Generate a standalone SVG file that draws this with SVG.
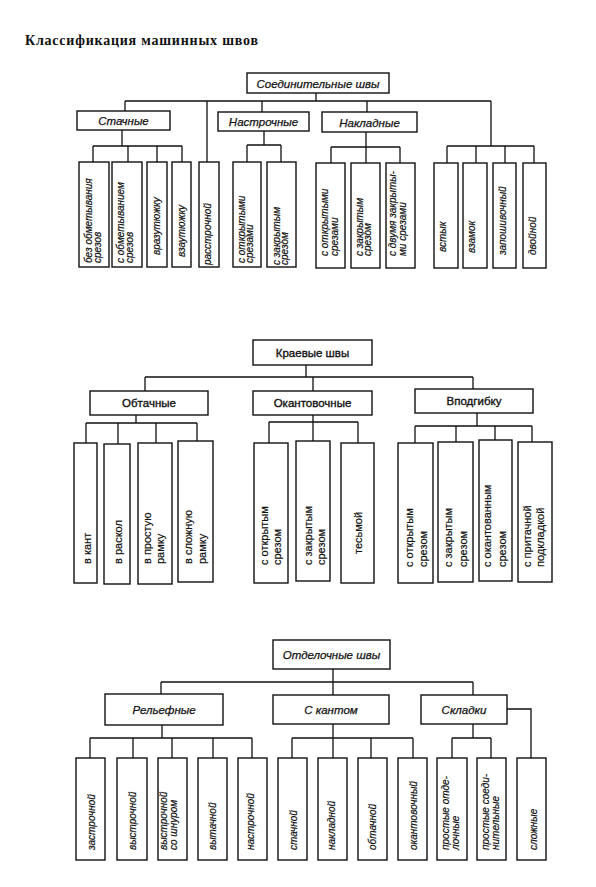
<svg xmlns="http://www.w3.org/2000/svg" width="596" height="887" viewBox="0 0 596 887">
<style>
rect{fill:#fff;stroke:#111;stroke-width:1.4}
.c path{fill:none;stroke:#111;stroke-width:1.3}
text{font-family:"Liberation Sans",Arial,sans-serif;fill:#111}
.h{font-size:11.5px;font-style:italic;text-anchor:middle;stroke:#111;stroke-width:0.25}
.h2{font-size:11.5px;text-anchor:middle;stroke:#111;stroke-width:0.35}
.l{font-size:10px;font-style:italic;stroke:#111;stroke-width:0.2}
.l2{font-size:11px;stroke:#111;stroke-width:0.2}
.t{font-family:"Liberation Serif","Times New Roman",serif;font-weight:bold;font-size:14px}
</style>
<rect x="0" y="0" width="596" height="887" style="stroke:none"/>
<text class="t" x="25" y="45" textLength="233" lengthAdjust="spacing">Классификация  машинных  швов</text>

<!-- connectors -->
<g class="c" id="connectors">
<!-- section 1 -->
<path d="M316 93V101M125 101H491M125 101V111M207 101V162M262 101V112M367 101V112M491 101V146"/>
<path d="M122 130V146M93 146H182M93 146V162M128 146V162M157 146V162M182 146V162"/>
<path d="M264 131V145M247 145H281M247 145V162M281 145V162"/>
<path d="M366 132V147M331 147H400M331 147V163M366 147V163M400 147V163"/>
<path d="M447 146H534M447 146V163M476 146V163M505 146V163M534 146V163"/>
<!-- section 2 -->
<path d="M306 365V377M145 377H473M145 377V391M313 377V391M473 377V389"/>
<path d="M136 415V423M86 423H197M86 423V443M118 423V444M156 423V443M197 423V441"/>
<path d="M313 415V422M269 422H358M269 422V443M313 422V441M358 422V443"/>
<path d="M477 413V426M415 426H532M415 426V443M456 426V442M495 426V440M532 426V442"/>
<!-- section 3 -->
<path d="M333 669V682M161 682H473M161 682V694M333 682V695M473 682V695"/>
<path d="M162 725V738M90 738H252M90 738V758M133 738V758M172 738V758M213 738V758M252 738V758"/>
<path d="M333 724V738M292 738H413M292 738V758M333 738V758M371 738V758M413 738V758"/>
<path d="M473 724V738M452 738H491M452 738V758M491 738V758"/>
<path d="M507 709H531V758"/>
</g>

<!-- section 1 -->
<g id="n-soed"><rect x="247" y="73" width="142" height="20"/><text class="h" x="318" y="87.5">Соединительные швы</text></g>
<g id="n-stach"><rect x="77" y="111" width="93" height="19"/><text class="h" x="123.5" y="125">Стачные</text></g>
<g id="n-nastr"><rect x="218" y="112" width="91" height="19"/><text class="h" x="263.5" y="126">Настрочные</text></g>
<g id="n-nakl"><rect x="322" y="112" width="95" height="20"/><text class="h" x="369.5" y="126.5">Накладные</text></g>

<g id="l1"><rect x="79" y="162" width="30" height="105"/><text class="l" transform="translate(92,263) rotate(-90)"><tspan x="0" y="0">без обметывания</tspan><tspan x="0" y="8.5">срезов</tspan></text></g>
<g id="l2"><rect x="112" y="162" width="30" height="105"/><text class="l" transform="translate(124,263) rotate(-90)"><tspan x="0" y="0">с обметыванием</tspan><tspan x="0" y="8.5">срезов</tspan></text></g>
<g id="l3"><rect x="147" y="162" width="20" height="105"/><text class="l" transform="translate(159.5,255) rotate(-90)">вразутюжку</text></g>
<g id="l4"><rect x="172" y="162" width="19" height="105"/><text class="l" transform="translate(184.5,257) rotate(-90)">взаутюжку</text></g>
<g id="l5"><rect x="199" y="162" width="20" height="105"/><text class="l" transform="translate(211,265) rotate(-90)">расстрочной</text></g>
<g id="l6"><rect x="233" y="162" width="28" height="105"/><text class="l" transform="translate(244.5,263) rotate(-90)"><tspan x="0" y="0">с открытыми</tspan><tspan x="0" y="8.5">срезами</tspan></text></g>
<g id="l7"><rect x="267" y="162" width="29" height="105"/><text class="l" transform="translate(279.5,265) rotate(-90)"><tspan x="0" y="0">с закрытым</tspan><tspan x="0" y="8.5">срезом</tspan></text></g>
<g id="l8"><rect x="316" y="163" width="29" height="105"/><text class="l" transform="translate(328,256) rotate(-90)"><tspan x="0" y="0">с открытыми</tspan><tspan x="0" y="9.5">срезами</tspan></text></g>
<g id="l9"><rect x="351" y="163" width="29" height="105"/><text class="l" transform="translate(362.5,256) rotate(-90)"><tspan x="0" y="0">с закрытым</tspan><tspan x="0" y="8.5">срезом</tspan></text></g>
<g id="l10"><rect x="386" y="163" width="29" height="105"/><text class="l" transform="translate(395.5,256) rotate(-90)"><tspan x="0" y="0">с двумя закрыты-</tspan><tspan x="0" y="10">ми срезами</tspan></text></g>
<g id="l11"><rect x="434" y="163" width="24" height="105"/><text class="l" transform="translate(445.5,252) rotate(-90)">встык</text></g>
<g id="l12"><rect x="463" y="163" width="24" height="105"/><text class="l" transform="translate(474.5,253) rotate(-90)">взамок</text></g>
<g id="l13"><rect x="493" y="163" width="23" height="105"/><text class="l" transform="translate(505.5,255) rotate(-90)">запошивочный</text></g>
<g id="l14"><rect x="523" y="163" width="23" height="105"/><text class="l" transform="translate(535.5,255) rotate(-90)">двойной</text></g>

<!-- section 2 -->
<g id="n-kraev"><rect x="253" y="340" width="119" height="25"/><text class="h2" x="312.5" y="357">Краевые швы</text></g>
<g id="n-obt"><rect x="90" y="391" width="118" height="24"/><text class="h2" x="149" y="407">Обтачные</text></g>
<g id="n-okant"><rect x="253" y="391" width="119" height="24"/><text class="h2" x="312.5" y="407">Окантовочные</text></g>
<g id="n-vpodg"><rect x="415" y="389" width="118" height="24"/><text class="h2" x="474" y="405">Вподгибку</text></g>

<g id="m1"><rect x="74" y="443" width="23" height="140"/><text class="l2" transform="translate(91,564) rotate(-90)">в кант</text></g>
<g id="m2"><rect x="104" y="444" width="26" height="140"/><text class="l2" transform="translate(121.5,564) rotate(-90)">в раскол</text></g>
<g id="m3"><rect x="138" y="443" width="34" height="141"/><text class="l2" transform="translate(151,564) rotate(-90)"><tspan x="0" y="0">в простую</tspan><tspan x="0" y="13">рамку</tspan></text></g>
<g id="m4"><rect x="178" y="441" width="35" height="141"/><text class="l2" transform="translate(192,564) rotate(-90)"><tspan x="0" y="0">в сложную</tspan><tspan x="0" y="14">рамку</tspan></text></g>
<g id="m5"><rect x="254" y="443" width="34" height="140"/><text class="l2" transform="translate(268,565) rotate(-90)"><tspan x="0" y="0">с открытым</tspan><tspan x="0" y="13">срезом</tspan></text></g>
<g id="m6"><rect x="296" y="441" width="34" height="140"/><text class="l2" transform="translate(312,565) rotate(-90)"><tspan x="0" y="0">с закрытым</tspan><tspan x="0" y="13">срезом</tspan></text></g>
<g id="m7"><rect x="341" y="443" width="33" height="140"/><text class="l2" transform="translate(362,554) rotate(-90)">тесьмой</text></g>
<g id="m8"><rect x="398" y="443" width="35" height="140"/><text class="l2" transform="translate(412.5,567) rotate(-90)"><tspan x="0" y="0">с открытым</tspan><tspan x="0" y="14">срезом</tspan></text></g>
<g id="m9"><rect x="438" y="442" width="35" height="140"/><text class="l2" transform="translate(452,567) rotate(-90)"><tspan x="0" y="0">с закрытым</tspan><tspan x="0" y="15">срезом</tspan></text></g>
<g id="m10"><rect x="479" y="440" width="33" height="141"/><text class="l2" transform="translate(491,567) rotate(-90)"><tspan x="0" y="0">с окантованным</tspan><tspan x="0" y="15">срезом</tspan></text></g>
<g id="m11"><rect x="518" y="442" width="34" height="140"/><text class="l2" transform="translate(531,567) rotate(-90)"><tspan x="0" y="0">с притачной</tspan><tspan x="0" y="13">подкладкой</tspan></text></g>

<!-- section 3 -->
<g id="n-otdel"><rect x="273" y="640" width="117" height="29"/><text class="h" x="331.5" y="659">Отделочные швы</text></g>
<g id="n-relef"><rect x="105" y="694" width="118" height="31"/><text class="h" x="164" y="714">Рельефные</text></g>
<g id="n-kant"><rect x="273" y="695" width="116" height="29"/><text class="h" x="331" y="714">С кантом</text></g>
<g id="n-sklad"><rect x="421" y="695" width="86" height="29"/><text class="h" x="464" y="714">Складки</text></g>

<g id="k1"><rect x="76" y="758" width="29" height="102"/><text class="l" transform="translate(95,850) rotate(-90)">застрочной</text></g>
<g id="k2"><rect x="117" y="758" width="30" height="102"/><text class="l" transform="translate(135.5,850) rotate(-90)">выстрочной</text></g>
<g id="k3"><rect x="158" y="758" width="29" height="102"/><text class="l" transform="translate(167,850) rotate(-90)"><tspan x="0" y="0">выстрочной</tspan><tspan x="0" y="10">со шнуром</tspan></text></g>
<g id="k4"><rect x="198" y="758" width="29" height="102"/><text class="l" transform="translate(215.5,850) rotate(-90)">вытачной</text></g>
<g id="k5"><rect x="238" y="758" width="29" height="102"/><text class="l" transform="translate(254,850) rotate(-90)">настрочной</text></g>
<g id="k6"><rect x="278" y="758" width="29" height="102"/><text class="l" transform="translate(297,850) rotate(-90)">стачной</text></g>
<g id="k7"><rect x="318" y="758" width="29" height="102"/><text class="l" transform="translate(334.5,850) rotate(-90)">накладной</text></g>
<g id="k8"><rect x="358" y="758" width="29" height="102"/><text class="l" transform="translate(375.5,850) rotate(-90)">обтачной</text></g>
<g id="k9"><rect x="398" y="758" width="29" height="102"/><text class="l" transform="translate(417,850) rotate(-90)">окантовочный</text></g>
<g id="k10"><rect x="437" y="758" width="30" height="102"/><text class="l" transform="translate(449,850) rotate(-90)"><tspan x="0" y="0">простые отде-</tspan><tspan x="0" y="10">лочные</tspan></text></g>
<g id="k11"><rect x="477" y="758" width="29" height="102"/><text class="l" transform="translate(489,850) rotate(-90)"><tspan x="0" y="0">простые соеди-</tspan><tspan x="0" y="10">нительные</tspan></text></g>
<g id="k12"><rect x="517" y="758" width="29" height="102"/><text class="l" transform="translate(537,850) rotate(-90)">сложные</text></g>
</svg>
